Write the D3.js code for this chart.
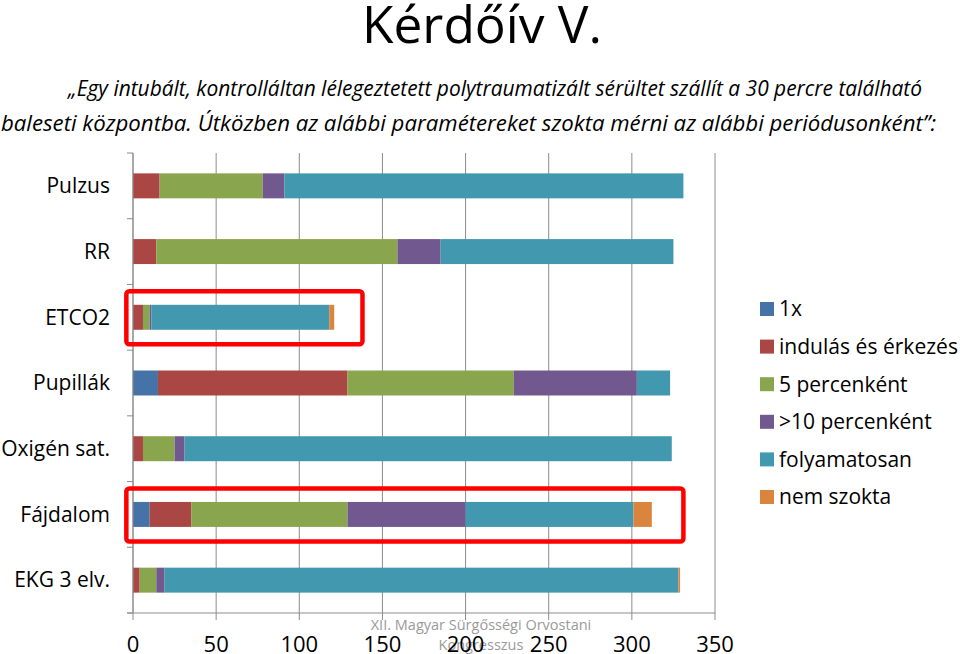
<!DOCTYPE html>
<html>
<head>
<meta charset="utf-8">
<script src="https://cdn.jsdelivr.net/npm/d3@7"></script>
<style>
  body { margin: 0; background: #fff; }
  svg { display: block; font-family: "Open Sans", sans-serif; }
</style>
</head>
<body>
<div id="chart"></div>
<script>
// categories, top to bottom
var categories = ["Pulzus", "RR", "ETCO2", "Pupillák", "Oxigén sat.", "Fájdalom", "EKG 3 elv."];

// series values, one per category
var egyszer    = [0, 0, 0, 15, 0, 10, 0];
var indulas    = [16, 14, 6, 114, 6, 25, 4];
var otPerc     = [62, 145, 4, 100, 19, 94, 10];
var tizPerc    = [13, 26, 1, 74, 6, 71, 5];
var folyamatos = [240, 140, 107, 20, 293, 101, 309];
var nemSzokta  = [0, 0, 3, 0, 0, 11, 1];

var seriesNames = ["1x", "indulás és érkezés", "5 percenként", ">10 percenként", "folyamatosan", "nem szokta"];
var seriesColors = ["#4572A7", "#AA4643", "#89A54E", "#71588F", "#4198AF", "#DB843D"];
var xTicks = [0, 50, 100, 150, 200, 250, 300, 350];

// red boxes drawn over the chart
var highlightCats = ["ETCO2", "Fájdalom"];
var highlightTo = [138, 331];

var width = 960, height = 654;

var svg = d3.select("#chart").append("svg")
    .attr("width", width)
    .attr("height", height);

var x = d3.scaleLinear().domain([0, 350]).range([133, 715]);
var y = d3.scaleBand().domain(categories)
    .range([153, 613])
    .paddingInner(0.62)
    .paddingOuter(0.31);

// build table for the stack
var allSeries = [egyszer, indulas, otPerc, tizPerc, folyamatos, nemSzokta];
var table = categories.map(function(c, i) {
    var row = {cat: c};
    seriesNames.forEach(function(s, j) { row[s] = allSeries[j][i]; });
    return row;
});
var stacked = d3.stack().keys(seriesNames)(table);

// title
svg.append("text")
    .attr("x", 482).attr("y", 43)
    .attr("text-anchor", "middle")
    .attr("textLength", 240)
    .attr("lengthAdjust", "spacingAndGlyphs")
    .style("font-size", "52px")
    .attr("fill", "#000")
    .text("Kérdőív V.");

var sub = [
    {t: "„Egy intubált, kontrolláltan lélegeztetett polytraumatizált sérültet szállít a 30 percre található", x: 68, y: 96, w: 854},
    {t: "baleseti központba. Útközben az alábbi paramétereket szokta mérni az alábbi periódusonként”:", x: 1, y: 131, w: 935}
];
svg.selectAll("text.sub").data(sub).enter().append("text")
    .attr("class", "sub")
    .attr("x", function(d) { return d.x; })
    .attr("y", function(d) { return d.y; })
    .attr("textLength", function(d) { return d.w; })
    .attr("lengthAdjust", "spacingAndGlyphs")
    .style("font-size", "22px")
    .style("font-style", "italic")
    .text(function(d) { return d.t; });

// gridlines
svg.append("g").selectAll("line").data(xTicks).enter().append("line")
    .attr("x1", function(d) { return x(d); })
    .attr("x2", function(d) { return x(d); })
    .attr("y1", 153).attr("y2", 620)
    .attr("stroke", "#8c8c8c")
    .attr("stroke-width", 1);

// bars
svg.append("g").selectAll("g").data(stacked).enter().append("g")
    .attr("fill", function(d, i) { return seriesColors[i]; })
  .selectAll("rect").data(function(d) { return d; }).enter().append("rect")
    .attr("x", function(d) { return x(d[0]); })
    .attr("width", function(d) { return x(d[1]) - x(d[0]); })
    .attr("y", function(d) { return y(d.data.cat); })
    .attr("height", y.bandwidth());

// left axis line and band ticks
svg.append("line")
    .attr("x1", x(0)).attr("x2", x(0))
    .attr("y1", 153).attr("y2", 613)
    .attr("stroke", "#8c8c8c");
var bandEdges = categories.map(function(c) { return y(c) - y.step() * y.paddingInner() / 2; }).concat([613]);
svg.append("g").selectAll("line").data(bandEdges).enter().append("line")
    .attr("x1", x(0) - 6).attr("x2", x(0))
    .attr("y1", function(d) { return d; })
    .attr("y2", function(d) { return d; })
    .attr("stroke", "#8c8c8c");

// bottom axis
svg.append("line")
    .attr("x1", x(0) - 6).attr("x2", x(350))
    .attr("y1", 613).attr("y2", 613)
    .attr("stroke", "#8c8c8c");

// category labels
svg.append("g").selectAll("text").data(categories).enter().append("text")
    .attr("x", 110)
    .attr("y", function(d) { return y(d) + y.bandwidth() / 2; })
    .attr("dy", "0.35em")
    .attr("text-anchor", "end")
    .style("font-size", "21px")
    .text(function(d) { return d; });

// watermark
svg.append("g").selectAll("text")
    .data(["XII. Magyar Sürgősségi Orvostani", "Kongresszus"]).enter().append("text")
    .attr("x", 481)
    .attr("y", function(d, i) { return 630 + i * 20; })
    .attr("text-anchor", "middle")
    .attr("fill", "#9a9a9a")
    .style("font-size", "14.5px")
    .text(function(d) { return d; });

// x tick labels
svg.append("g").selectAll("text").data(xTicks).enter().append("text")
    .attr("x", function(d) { return x(d); })
    .attr("y", 652)
    .attr("text-anchor", "middle")
    .style("font-size", "22px")
    .text(function(d) { return d; });

// red highlight boxes
svg.append("g").selectAll("rect").data(highlightCats).enter().append("rect")
    .attr("x", x(-4))
    .attr("width", function(d, i) { return x(highlightTo[i]) - x(-4); })
    .attr("y", function(d) { return y(d) + y.bandwidth() / 2 - 26; })
    .attr("height", 53)
    .attr("rx", 3)
    .attr("fill", "none")
    .attr("stroke", "#ff0000")
    .attr("stroke-width", 4.5);

// legend
var legend = svg.append("g").selectAll("g").data(seriesNames).enter().append("g")
    .attr("transform", function(d, i) { return "translate(760," + (309 + i * 37.6) + ")"; });
legend.append("rect")
    .attr("x", 0).attr("y", -7)
    .attr("width", 14).attr("height", 14)
    .attr("fill", function(d, i) { return seriesColors[i]; });
legend.append("text")
    .attr("x", 19).attr("dy", "0.35em")
    .attr("textLength", function(d) { return d.length > 15 ? 179 : null; })
    .attr("lengthAdjust", "spacingAndGlyphs")
    .style("font-size", "21px")
    .text(function(d) { return d; });
</script>
</body>
</html>
